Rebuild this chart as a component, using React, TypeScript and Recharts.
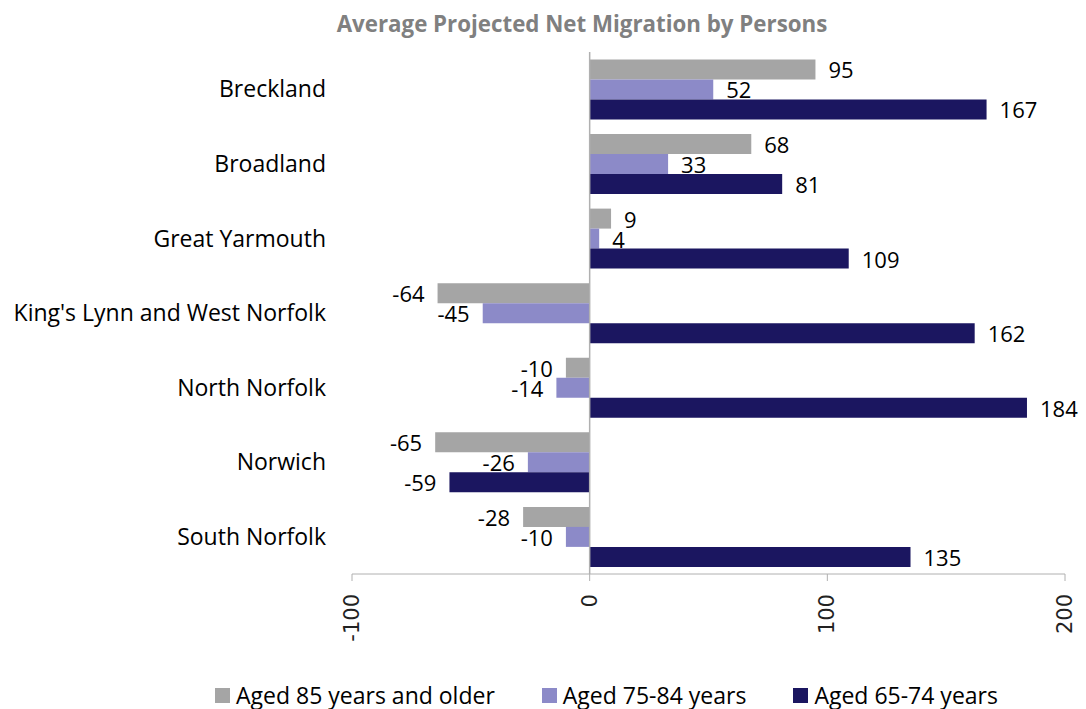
import React from "react";
import {
  BarChart,
  Bar,
  XAxis,
  YAxis,
  LabelList,
  ReferenceLine,
  Legend,
} from "recharts";

// 지역 및 연령대별 순이동 평균
const districts = [
  "Breckland",
  "Broadland",
  "Great Yarmouth",
  "King's Lynn and West Norfolk",
  "North Norfolk",
  "Norwich",
  "South Norfolk",
];
const aged85plus = [95, 68, 9, -64, -10, -65, -28];
const aged75to84 = [52, 33, 4, -45, -14, -26, -10];
const aged65to74 = [167, 81, 109, 162, 184, -59, 135];
const xTicks = [-100, 0, 100, 200];

const seriesInfo = [
  { key: "a85", name: "Aged 85 years and older", color: "#A5A5A5" },
  { key: "a75", name: "Aged 75-84 years", color: "#8C8AC8" },
  { key: "a65", name: "Aged 65-74 years", color: "#1B1660" },
];

const data = districts.map((name, i) => ({
  name,
  a85: aged85plus[i],
  a75: aged75to84[i],
  a65: aged65to74[i],
}));

const FONT = "'Open Sans', Lato, sans-serif";
const AXIS = "#B0B0B0";

const ValueLabel = (props: any) => {
  const { x, y, width, height, value } = props;
  const left = Math.min(x, x + width);
  const right = Math.max(x, x + width);
  const neg = value < 0;
  return (
    <text
      x={neg ? left - 13 : right + 13}
      y={y + height / 2}
      textAnchor={neg ? "end" : "start"}
      dominantBaseline="central"
      fontFamily={FONT}
      fontSize={22}
      fill="#000"
    >
      {value}
    </text>
  );
};

const XTick = (props: any) => {
  const { x, y, payload } = props;
  return (
    <text
      x={x}
      y={y}
      transform={`rotate(-90, ${x}, ${y})`}
      textAnchor="end"
      dominantBaseline="central"
      fontFamily="'DejaVu Sans', sans-serif"
      fontSize={21}
      fill="#222"
    >
      {payload.value}
    </text>
  );
};

const LegendBox = () => (
  <div
    style={{
      display: "flex",
      justifyContent: "center",
      gap: 47,
      fontFamily: FONT,
      fontSize: 23,
      color: "#000",
      height: 30,
      alignItems: "center",
      paddingLeft: 127,
      boxSizing: "border-box",
    }}
  >
    {seriesInfo.map((s) => (
      <div key={s.key} style={{ display: "flex", alignItems: "center" }}>
        <span
          style={{
            width: 15,
            height: 15,
            background: s.color,
            display: "inline-block",
            marginRight: 6,
          }}
        />
        {s.name}
      </div>
    ))}
  </div>
);

export default function App() {
  return (
    <div
      style={{
        position: "absolute",
        left: 0,
        top: 0,
        width: 1086,
        height: 709,
        background: "#fff",
      }}
    >
      <div
        style={{
          position: "absolute",
          top: 8,
          left: 0,
          width: 1086,
          paddingLeft: 78,
          boxSizing: "border-box",
          textAlign: "center",
          fontFamily: FONT,
          fontWeight: 700,
          fontSize: 22.3,
          color: "#808080",
        }}
      >
        Average Projected Net Migration by Persons
      </div>
      <BarChart
        layout="vertical"
        width={1086}
        height={709}
        data={data}
        margin={{ top: 52, right: 21, bottom: 76, left: 0 }}
        barCategoryGap="10%"
        barGap={0}
      >
        <XAxis
          type="number"
          domain={[-100, 200]}
          ticks={xTicks}
          interval={0}
          stroke={AXIS}
          tickSize={7}
          tickMargin={13}
          tick={<XTick />}
        />
        <YAxis
          type="category"
          dataKey="name"
          width={352}
          axisLine={false}
          tickLine={false}
          tickMargin={20}
          tick={{ fontFamily: FONT, fontSize: 23, fill: "#000" }}
        />
        {seriesInfo.map((s) => (
          <Bar
            key={s.key}
            dataKey={s.key}
            name={s.name}
            fill={s.color}
            isAnimationActive={false}
          >
            <LabelList dataKey={s.key} content={<ValueLabel />} />
          </Bar>
        ))}
        <ReferenceLine x={0} stroke={AXIS} strokeWidth={1.5} />
        <Legend
          verticalAlign="bottom"
          content={<LegendBox />}
          wrapperStyle={{ left: 0, width: 1086, bottom: 0, top: 680 }}
        />
      </BarChart>
    </div>
  );
}
